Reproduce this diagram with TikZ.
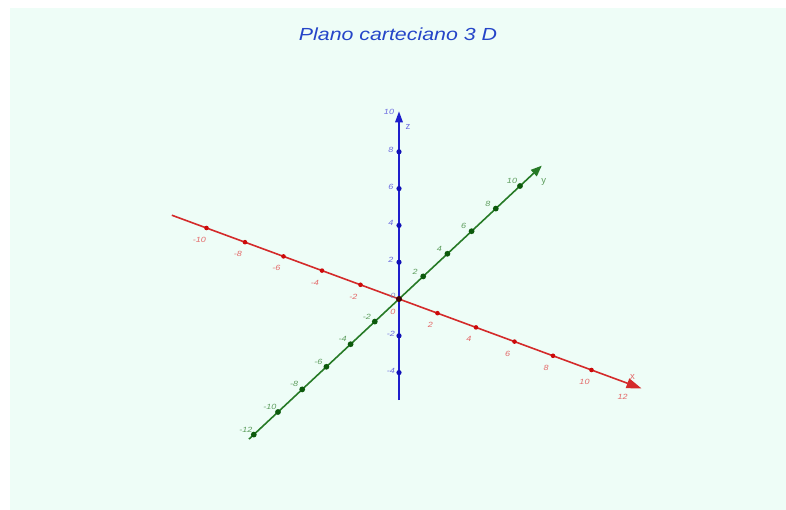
\documentclass[tikz,border=0pt]{standalone}
\usepackage{fontspec}
\setmainfont{Liberation Sans}
\usetikzlibrary{arrows.meta}
\definecolor{mint}{HTML}{EEFDF7}
\definecolor{axred}{HTML}{D42A2A}
\definecolor{axgreen}{HTML}{267A26}
\definecolor{axblue}{HTML}{1E1ECC}
\definecolor{dotred}{HTML}{CC0A0A}
\definecolor{dotgreen}{HTML}{0C5A0C}
\definecolor{dotblue}{HTML}{1010B8}
\definecolor{labred}{HTML}{E46A6A}
\definecolor{labgreen}{HTML}{5E9E5E}
\definecolor{labblue}{HTML}{6C6CE0}
\definecolor{labmix}{HTML}{7F8FC8}
\definecolor{titleblue}{HTML}{2545C8}
\tikzset{
  axline/.style={line width=1.6pt},
  lab/.style={inner sep=0pt, font=\fontsize{7.5}{7.5}\selectfont\itshape},
  redlab/.style={lab, text=labred},
  greenlab/.style={lab, text=labgreen},
  bluelab/.style={lab, text=labblue},
  reddot/.style={circle, fill=dotred, inner sep=0pt, minimum size=4.6pt},
  greendot/.style={circle, fill=dotgreen, inner sep=0pt, minimum size=5.8pt},
  bluedot/.style={circle, fill=dotblue, inner sep=0pt, minimum size=5.2pt},
}
\begin{document}
\begin{tikzpicture}[x={(19.25pt,-7.1pt)}, y={(12.1pt,11.3pt)}, z={(0pt,18.4pt)}]
\useasboundingbox (-399pt,299pt) rectangle (387pt,-211pt);
\fill[white] (-399pt,299pt) rectangle (387pt,-211pt);
\fill[mint] (-389pt,291pt) rectangle (387pt,-211pt);
\node[text=titleblue, inner sep=0pt, font=\fontsize{17.5}{17.5}\selectfont\itshape] (title) at (-1pt,265pt) {\scalebox{1.22}[1]{Plano carteciano 3 D}};
% axis ends
\coordinate (xs) at (-11.8,0,0);
\coordinate (xe) at (12.6,0,0);
\coordinate (ys) at (0,-12.4,0);
\coordinate (ye) at (0,11.8,0);
\coordinate (zs) at (0,0,-5.5);
\coordinate (ze) at (0,0,10.2);
\draw[axline, axred, -{Triangle[length=15pt,width=10pt]}] (xs) -- (xe);
\draw[axline, axgreen, -{Triangle[length=11pt,width=8.5pt]}] (ys) -- (ye);
\draw[axline, axblue, -{Triangle[length=11pt,width=7.5pt]}] (zs) -- (ze);
% ticks x
\foreach \t in {-10,-8,-6,-4,-2,2,4,6,8,10} {
  \node[reddot] (xt\t) at (\t,0,0) {};
  \node[redlab] at ([shift={(-7pt,-12pt)}]xt\t) {\scalebox{1.2}[1]{\t}};
}
% ticks y
\foreach \t in {-12,-10,-8,-6,-4,-2,2,4,6,8,10} {
  \node[greendot] (yt\t) at (0,\t,0) {};
  \node[greenlab] at ([shift={(-8pt,5pt)}]yt\t) {\scalebox{1.2}[1]{\t}};
}
% ticks z
\foreach \t in {-4,-2,2,4,6,8} {
  \node[bluedot] (zt\t) at (0,0,\t) {};
  \node[bluelab] at ([shift={(-8pt,2pt)}]zt\t) {\scalebox{1.2}[1]{\t}};
}
\node[circle, fill=black!70!dotred, inner sep=0pt, minimum size=6pt] (o) at (0,0,0) {};
\node[redlab] at ([shift={(-6pt,-12.5pt)}]o) {\scalebox{1.2}[1]{0}};
\node[lab, text=labmix] at ([shift={(-6pt,3pt)}]o) {\scalebox{1.2}[1]{0}};
% axis names
\node[redlab, font=\fontsize{9.5}{9.5}\selectfont] (xn) at ([shift={(-9pt,11pt)}]xe) {x};
\node[redlab] (x12) at ([shift={(-19pt,-8pt)}]xe) {\scalebox{1.2}[1]{12}};
\node[greenlab, font=\fontsize{9.5}{9.5}\selectfont] (yn) at ([shift={(2pt,-16pt)}]ye) {y};
\node[bluelab, font=\fontsize{9.5}{9.5}\selectfont] (zn) at ([shift={(9pt,-16pt)}]ze) {z};
\node[bluelab] (z10) at ([shift={(-10pt,-1pt)}]ze) {\scalebox{1.2}[1]{10}};
\end{tikzpicture}
\end{document}
